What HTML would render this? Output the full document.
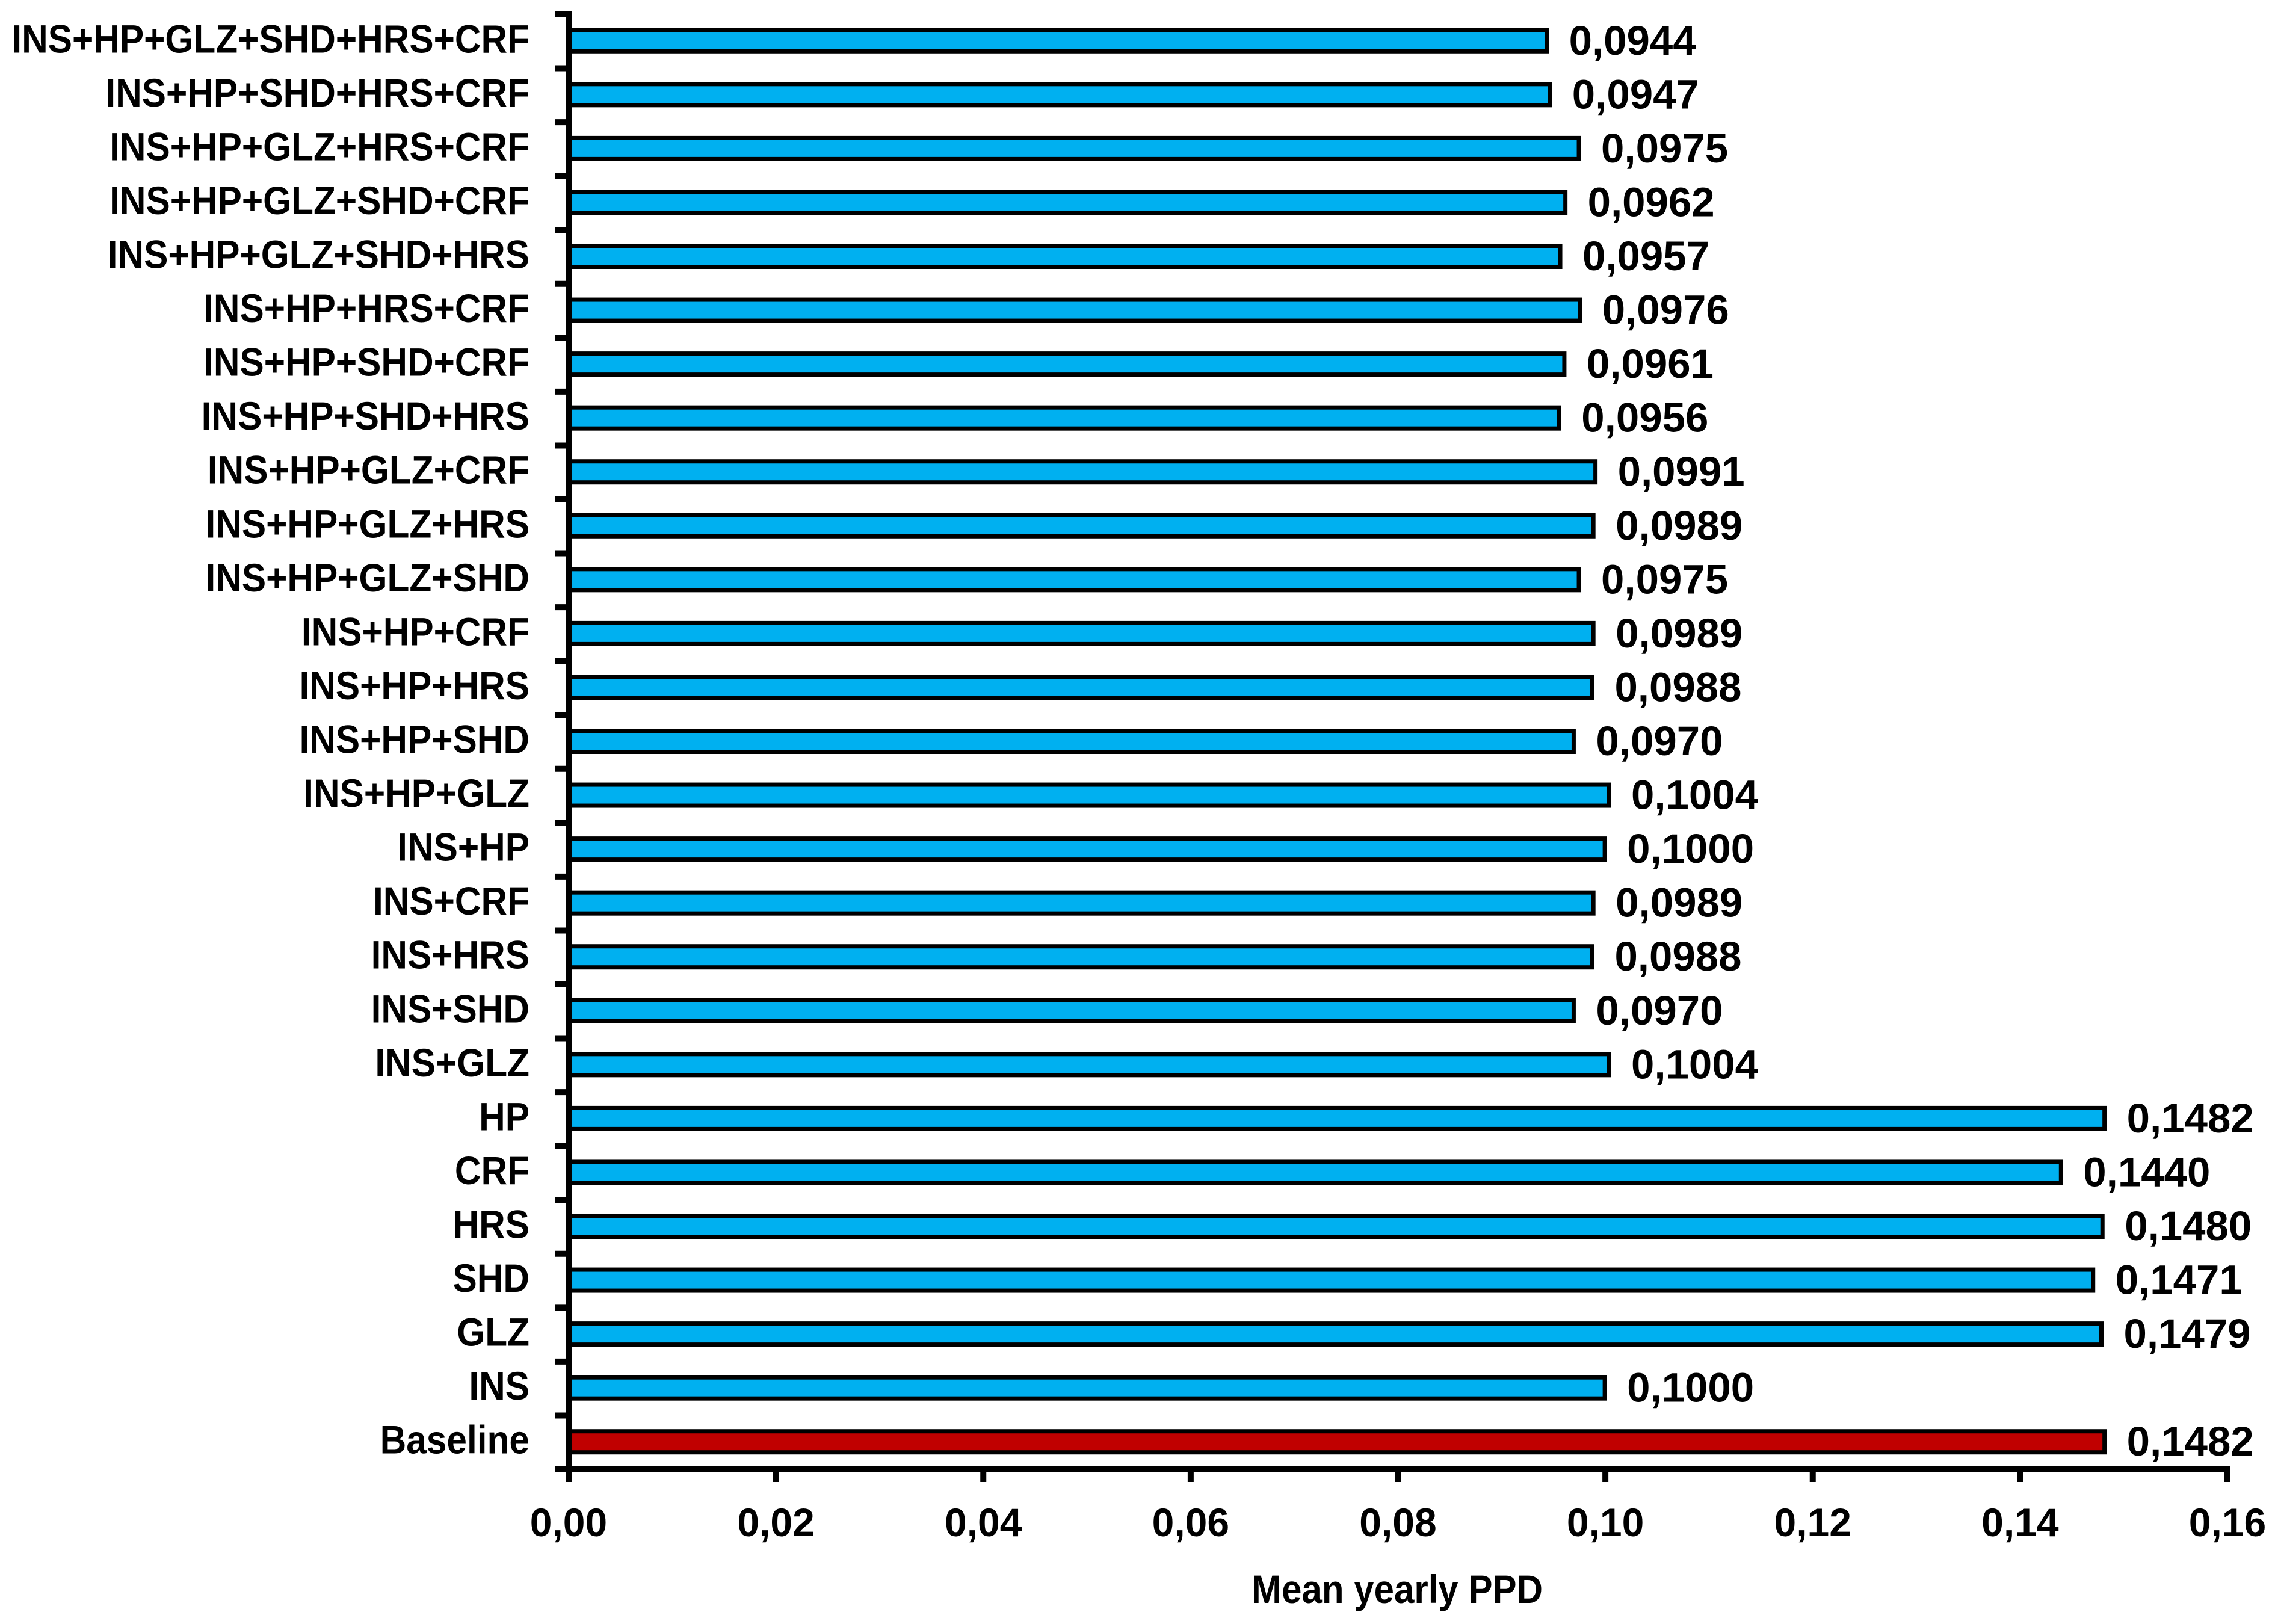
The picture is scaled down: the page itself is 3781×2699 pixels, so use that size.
<!DOCTYPE html>
<html lang="en">
<head>
<meta charset="utf-8">
<title>Mean yearly PPD</title>
<style>
html,body{margin:0;padding:0;background:#fff;}
svg{display:block;}
text{font-family:"Liberation Sans",sans-serif;font-weight:bold;fill:#000;}
</style>
</head>
<body>
<svg id="chart" xmlns="http://www.w3.org/2000/svg" width="3781" height="2699" viewBox="0 0 3781 2699"></svg>
<script>
const categories = ["INS+HP+GLZ+SHD+HRS+CRF","INS+HP+SHD+HRS+CRF","INS+HP+GLZ+HRS+CRF","INS+HP+GLZ+SHD+CRF","INS+HP+GLZ+SHD+HRS","INS+HP+HRS+CRF","INS+HP+SHD+CRF","INS+HP+SHD+HRS","INS+HP+GLZ+CRF","INS+HP+GLZ+HRS","INS+HP+GLZ+SHD","INS+HP+CRF","INS+HP+HRS","INS+HP+SHD","INS+HP+GLZ","INS+HP","INS+CRF","INS+HRS","INS+SHD","INS+GLZ","HP","CRF","HRS","SHD","GLZ","INS","Baseline"];
const values = [0.0944,0.0947,0.0975,0.0962,0.0957,0.0976,0.0961,0.0956,0.0991,0.0989,0.0975,0.0989,0.0988,0.0970,0.1004,0.1000,0.0989,0.0988,0.0970,0.1004,0.1482,0.1440,0.1480,0.1471,0.1479,0.1000,0.1482];
const xTicks = [0,0.02,0.04,0.06,0.08,0.10,0.12,0.14,0.16];

const SVG_NS = "http://www.w3.org/2000/svg";
const svg = document.getElementById("chart");
const plotLeft = 945, plotRight = 3702, plotTop = 24, plotBottom = 2442;
const xMax = 0.16;
const band = (plotBottom - plotTop) / categories.length;
function xScale(v){ return plotLeft + (v / xMax) * (plotRight - plotLeft); }
function yCenter(i){ return plotTop + band * (i + 0.5) - 1; }
function tickY(i){ return plotTop + band * i; }
function fmt(v, digits){ return v.toFixed(digits).replace(".", ","); }
function make(tag, attrs){
  const el = document.createElementNS(SVG_NS, tag);
  for (const k in attrs) el.setAttribute(k, attrs[k]);
  svg.appendChild(el);
  return el;
}

categories.forEach(function(cat, i){
  const cy = yCenter(i);
  const bar = make("rect", {x: plotLeft, y: cy - 17.5, width: xScale(values[i]) - plotLeft - 1, height: 35, fill: cat === "Baseline" ? "#c00000" : "#00b0f0", stroke: "#000", "stroke-width": 7});
  
  

  const label = make("text", {transform: "translate(880," + (cy + 19.5) + ") scale(0.915,1)", "text-anchor": "end", "font-size": 66});
  label.textContent = cat;
  
  

  const val = make("text", {x: xScale(values[i]) + 36, y: cy + 23, "font-size": 69});
  val.textContent = fmt(values[i], 4);
  
  
});

for (let i = 0; i <= categories.length; i++) {
  const t = make("line", {x1: 923, x2: plotLeft, y1: tickY(i), y2: tickY(i), stroke: "#000", "stroke-width": 10});
  
  
}

xTicks.forEach(function(v){
  const x = xScale(v);
  const t = make("line", {x1: x, x2: x, y1: plotBottom, y2: 2463, stroke: "#000", "stroke-width": 10});
  
  
  const l = make("text", {x: x, y: 2553, "text-anchor": "middle", "font-size": 66});
  l.textContent = fmt(v, 2);
  
  
});

const yAxis = make("line", {x1: plotLeft, x2: plotLeft, y1: 19, y2: 2447, stroke: "#000", "stroke-width": 10});



const xAxis = make("line", {x1: 923, x2: plotRight + 5, y1: plotBottom, y2: plotBottom, stroke: "#000", "stroke-width": 10});



const title = make("text", {transform: "translate(2322,2664) scale(0.91,1)", "text-anchor": "middle", "font-size": 66});
title.textContent = "Mean yearly PPD";


</script>
</body>
</html>
